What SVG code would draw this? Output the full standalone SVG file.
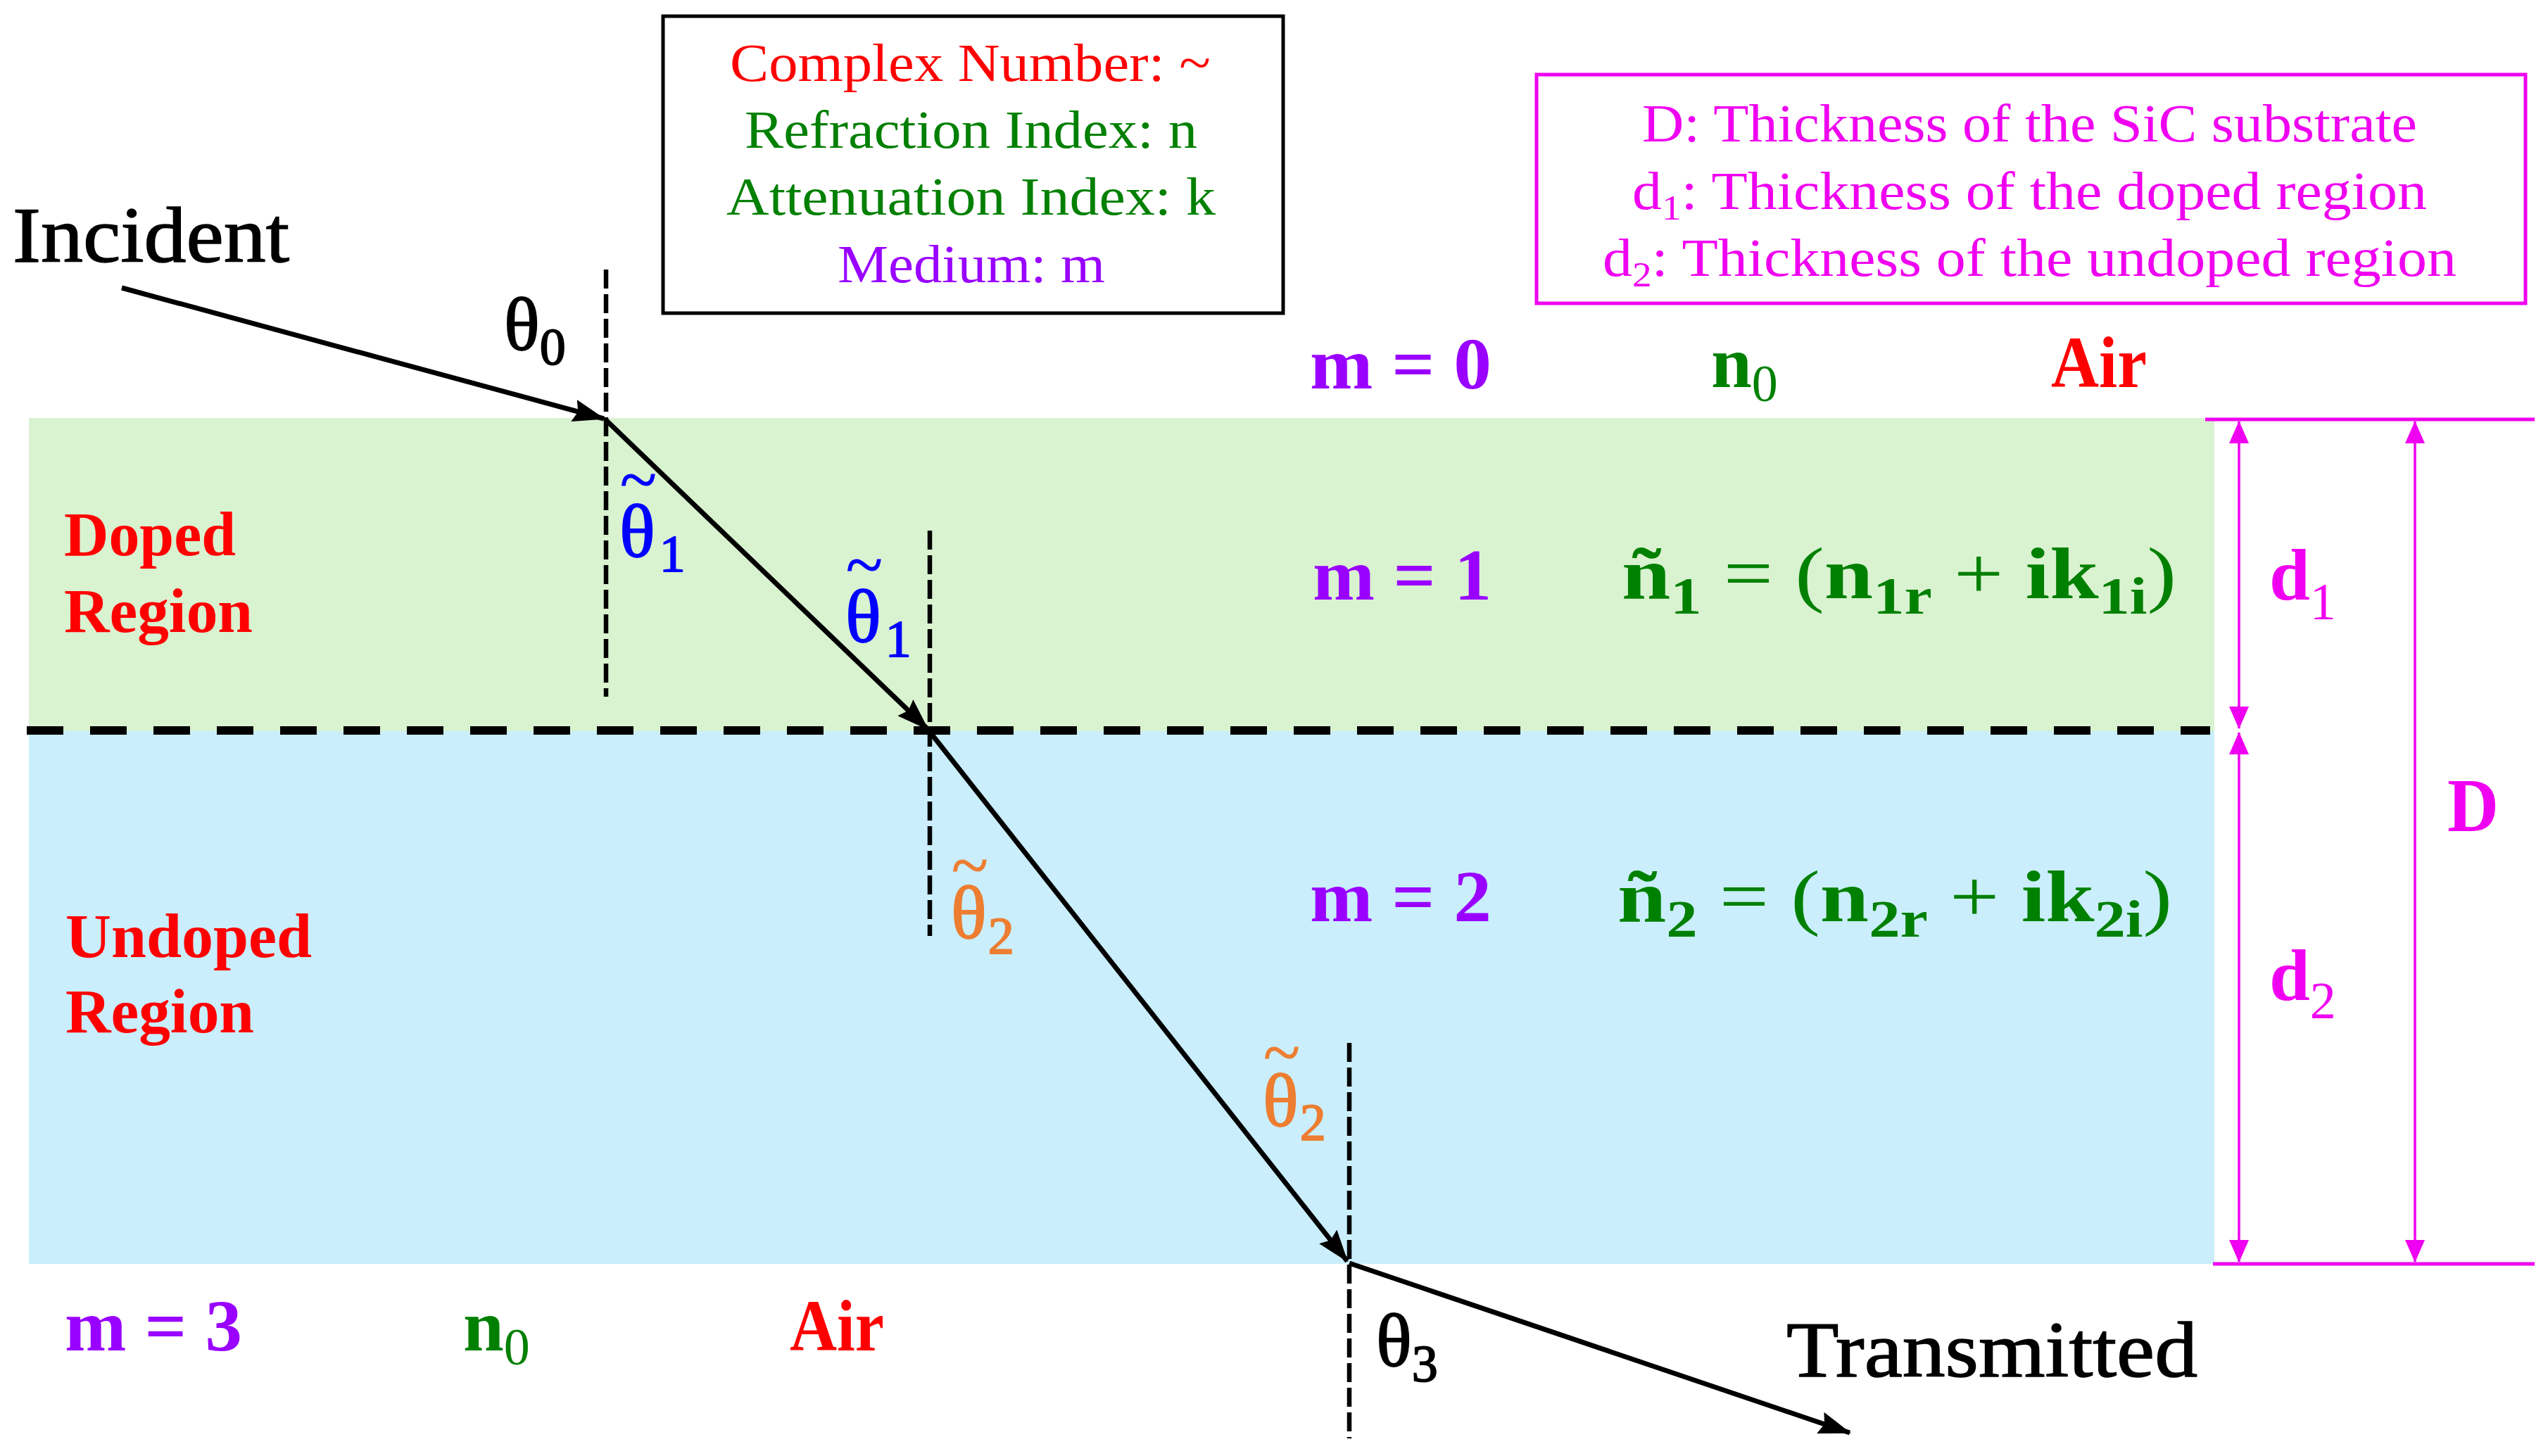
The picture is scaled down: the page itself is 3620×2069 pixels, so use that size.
<svg xmlns="http://www.w3.org/2000/svg" width="3620" height="2069" viewBox="0 0 3620 2069">
<style>
text { font-family: "Liberation Serif", "Times New Roman", serif; }
.b { font-weight: bold; }
.red { fill: #FF0000; }
.grn { fill: #008000; }
.pur { fill: #9900FF; }
.mag { fill: #F000F0; }
.blu { fill: #0000FF; stroke: #0000FF; }
.org { fill: #ED7D31; stroke: #ED7D31; }
.blk { fill: #000000; }
.thk { stroke: #000000; }
.box { font-size: 76px; }
.big { font-size: 104px; }
.th { font-size: 106px; stroke-width: 1.8px; }
.sub { font-size: 74px; }
.tl { font-size: 96px; stroke-width: 1px; }
.ray { stroke: #000; stroke-width: 7; fill: none; }
.norm { stroke: #000; stroke-width: 6.5; stroke-dasharray: 27 8; fill: none; }
.dim { stroke: #F000F0; stroke-width: 3.5; fill: none; }
.edge { stroke: #F000F0; stroke-width: 5; fill: none; }
</style>
<defs>
<marker id="ah" markerUnits="userSpaceOnUse" markerWidth="46" markerHeight="32" refX="44" refY="16" orient="auto">
<path d="M0,0 L46,16 L0,32 L6,16 z" fill="#000"/>
</marker>
<marker id="mh" markerUnits="userSpaceOnUse" markerWidth="32" markerHeight="28" refX="31" refY="14" orient="auto-start-reverse">
<path d="M0,0 L32,14 L0,28 z" fill="#F000F0"/>
</marker>
</defs>
<rect width="3620" height="2069" fill="#FFFFFF"/>

<g id="doped-layer">
<rect x="41" y="594" width="3105" height="445" fill="#D9F2D0"/>
</g>
<g id="undoped-layer">
<rect x="41" y="1039" width="3105" height="757" fill="#CAEEFB"/>
</g>

<g id="connectors">
<line x1="38" y1="1038" x2="3140" y2="1038" stroke="#000" stroke-width="12" stroke-dasharray="52 38"/>
<line class="norm" x1="861" y1="383" x2="861" y2="990"/>
<line class="norm" x1="1321" y1="754" x2="1321" y2="1330"/>
<line class="norm" x1="1917" y1="1482" x2="1917" y2="2044"/>
<line class="ray" x1="173" y1="409" x2="858" y2="595" marker-end="url(#ah)"/>
<line class="ray" x1="861" y1="597" x2="1318" y2="1036" marker-end="url(#ah)"/>
<line class="ray" x1="1321" y1="1040" x2="1914" y2="1792" marker-end="url(#ah)"/>
<line class="ray" x1="1917" y1="1795" x2="2628" y2="2036" marker-end="url(#ah)"/>
<line class="edge" x1="3133" y1="596" x2="3601" y2="596"/>
<line class="edge" x1="3144" y1="1796" x2="3601" y2="1796"/>
<line class="dim" x1="3181" y1="599" x2="3181" y2="1035" marker-start="url(#mh)" marker-end="url(#mh)"/>
<line class="dim" x1="3181" y1="1041" x2="3181" y2="1793" marker-start="url(#mh)" marker-end="url(#mh)"/>
<line class="dim" x1="3431" y1="599" x2="3431" y2="1793" marker-start="url(#mh)" marker-end="url(#mh)"/>
</g>

<g id="legend-box">
<rect x="942" y="23" width="881" height="422" fill="#FFFFFF" stroke="#000" stroke-width="5"/>
<text class="box red" x="1037" y="115" textLength="683" lengthAdjust="spacingAndGlyphs">Complex Number: ~</text>
<text class="box grn" x="1058" y="210" textLength="643" lengthAdjust="spacingAndGlyphs">Refraction Index: n</text>
<text class="box grn" x="1032" y="305" textLength="695" lengthAdjust="spacingAndGlyphs">Attenuation Index: k</text>
<text class="box pur" x="1190" y="401" textLength="380" lengthAdjust="spacingAndGlyphs">Medium: m</text>
</g>

<g id="thickness-box">
<rect x="2183" y="106" width="1405" height="325" fill="#FFFFFF" stroke="#F000F0" stroke-width="5"/>
<text class="box mag" x="2333" y="201" textLength="1101" lengthAdjust="spacingAndGlyphs">D: Thickness of the SiC substrate</text>
<text class="box mag" x="2319" y="297" textLength="1129" lengthAdjust="spacingAndGlyphs">d<tspan font-size="50" dy="15">1</tspan><tspan dy="-15">: Thickness of the doped region</tspan></text>
<text class="box mag" x="2277" y="392" textLength="1213" lengthAdjust="spacingAndGlyphs">d<tspan font-size="50" dy="15">2</tspan><tspan dy="-15">: Thickness of the undoped region</tspan></text>
</g>

<g id="incident">
<text class="blk thk" stroke-width="1.5" x="18" y="372" font-size="113" textLength="393" lengthAdjust="spacingAndGlyphs">Incident</text>
</g>
<g id="transmitted">
<text class="blk thk" stroke-width="1.5" x="2538" y="1956" font-size="113" textLength="584" lengthAdjust="spacingAndGlyphs">Transmitted</text>
</g>

<g id="theta0"><text class="th blk thk" x="716" y="497">θ<tspan class="sub" dy="21">0</tspan></text></g>
<g id="theta1-a"><text class="th blu"><tspan class="tl" x="881" y="713">~</tspan><tspan x="880" y="791">θ</tspan><tspan class="sub" dx="6" dy="21">1</tspan></text></g>
<g id="theta1-b"><text class="th blu"><tspan class="tl" x="1202" y="834">~</tspan><tspan x="1201" y="912">θ</tspan><tspan class="sub" dx="6" dy="21">1</tspan></text></g>
<g id="theta2-a"><text class="th org"><tspan class="tl" x="1352" y="1261">~</tspan><tspan x="1351" y="1333">θ</tspan><tspan class="sub" dx="2" dy="22">2</tspan></text></g>
<g id="theta2-b"><text class="th org"><tspan class="tl" x="1795" y="1527">~</tspan><tspan x="1794" y="1600">θ</tspan><tspan class="sub" dx="2" dy="20">2</tspan></text></g>
<g id="theta3"><text class="th blk thk" x="1955" y="1941">θ<tspan class="sub" dy="22">3</tspan></text></g>

<g id="doped-label">
<text class="b red" font-size="88" x="91" y="789" textLength="244" lengthAdjust="spacingAndGlyphs">Doped</text>
<text class="b red" font-size="88" x="91" y="898" textLength="268" lengthAdjust="spacingAndGlyphs">Region</text>
</g>
<g id="undoped-label">
<text class="b red" font-size="88" x="93" y="1360" textLength="350" lengthAdjust="spacingAndGlyphs">Undoped</text>
<text class="b red" font-size="88" x="93" y="1467" textLength="268" lengthAdjust="spacingAndGlyphs">Region</text>
</g>

<g id="medium-0">
<text class="big b pur" x="1861" y="552" textLength="258" lengthAdjust="spacingAndGlyphs">m = 0</text>
<text class="big b grn" x="2431" y="550">n<tspan class="sub" font-weight="normal" dy="20">0</tspan></text>
<text class="big b red" x="2914" y="550" textLength="136" lengthAdjust="spacingAndGlyphs">Air</text>
</g>
<g id="medium-1">
<text class="big b pur" x="1865" y="852" textLength="254" lengthAdjust="spacingAndGlyphs">m = 1</text>
<text class="big grn" x="2304" y="850" textLength="788" lengthAdjust="spacingAndGlyphs"><tspan class="b">ñ</tspan><tspan class="sub b" dy="22">1</tspan><tspan dy="-22"> = (</tspan><tspan class="b">n</tspan><tspan class="sub b" dy="22">1r</tspan><tspan dy="-22"> + </tspan><tspan class="b">ik</tspan><tspan class="sub b" dy="22">1i</tspan><tspan dy="-22">)</tspan></text>
</g>
<g id="medium-2">
<text class="big b pur" x="1861" y="1309" textLength="258" lengthAdjust="spacingAndGlyphs">m = 2</text>
<text class="big grn" x="2298" y="1309" textLength="788" lengthAdjust="spacingAndGlyphs"><tspan class="b">ñ</tspan><tspan class="sub b" dy="22">2</tspan><tspan dy="-22"> = (</tspan><tspan class="b">n</tspan><tspan class="sub b" dy="22">2r</tspan><tspan dy="-22"> + </tspan><tspan class="b">ik</tspan><tspan class="sub b" dy="22">2i</tspan><tspan dy="-22">)</tspan></text>
</g>
<g id="medium-3">
<text class="big b pur" x="92" y="1919" textLength="252" lengthAdjust="spacingAndGlyphs">m = 3</text>
<text class="big b grn" x="658" y="1919">n<tspan class="sub" font-weight="normal" dy="20">0</tspan></text>
<text class="big b red" x="1122" y="1919" textLength="134" lengthAdjust="spacingAndGlyphs">Air</text>
</g>

<g id="dim-labels">
<text class="big b mag" x="3224" y="852">d<tspan class="sub" font-weight="normal" dy="28">1</tspan></text>
<text class="big b mag" x="3224" y="1421">d<tspan class="sub" font-weight="normal" dy="26">2</tspan></text>
<text class="b mag" font-size="108" x="3477" y="1181" textLength="73" lengthAdjust="spacingAndGlyphs">D</text>
</g>
</svg>
